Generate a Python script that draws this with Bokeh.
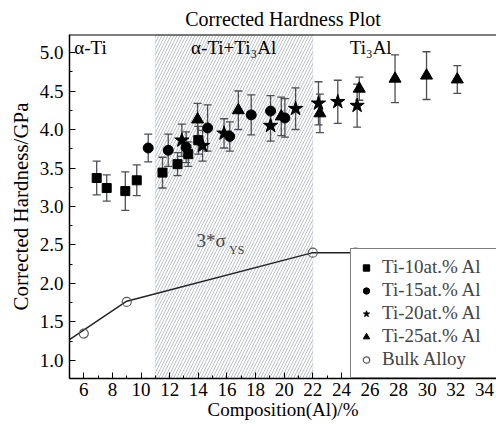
from bokeh.plotting import figure
from bokeh.models import (Range1d, FixedTicker, Whisker, TeeHead, ColumnDataSource,
                          BoxAnnotation, Label, Legend, LegendItem, Span, NumeralTickFormatter)
from bokeh.embed import file_html
from bokeh.resources import INLINE

# ---------------- data ----------------
ti10_x = [6.9, 7.6, 8.9, 9.7, 11.5, 12.55, 13.3, 14.0]
ti10_y = [3.37, 3.24, 3.20, 3.34, 3.44, 3.55, 3.68, 3.86]
ti10_e = [0.22, 0.17, 0.25, 0.20, 0.20, 0.15, 0.16, 0.18]

ti15_x = [10.5, 11.9, 13.15, 14.65, 16.2, 17.7, 19.05, 20.05]
ti15_y = [3.76, 3.73, 3.77, 4.02, 3.91, 4.19, 4.24, 4.15]
ti15_e = [0.18, 0.21, 0.20, 0.30, 0.19, 0.26, 0.20, 0.25]

ti20_x = [12.85, 14.3, 15.8, 19.05, 20.8, 22.4, 23.75, 25.1]
ti20_y = [3.86, 3.79, 3.95, 4.05, 4.27, 4.34, 4.36, 4.31]
ti20_e = [0.21, 0.20, 0.19, 0.20, 0.27, 0.28, 0.28, 0.28]

ti25_x = [13.95, 16.8, 19.8, 22.5, 25.25, 27.75, 29.95, 32.1]
ti25_y = [4.13, 4.25, 4.17, 4.21, 4.53, 4.66, 4.70, 4.65]
ti25_e = [0.21, 0.25, 0.25, 0.25, 0.15, 0.31, 0.31, 0.18]

bulk_x = [6, 9, 22, 25]
bulk_y = [1.35, 1.76, 2.40, 2.40]
fit_x = [5, 9, 22, 25]
fit_y = [1.27, 1.77, 2.40, 2.40]

phase_bounds = [11, 22]
phase_names = ["α-Ti", "α-Ti+Ti₃Al", "Ti₃Al"]
phase_label_x = [6.47, 16.47, 26.05]

series_names = ["Ti-10at.% Al", "Ti-15at.% Al", "Ti-20at.% Al", "Ti-25at.% Al", "Bulk Alloy"]

x_ticks = [6, 8, 10, 12, 14, 16, 18, 20, 22, 24, 26, 28, 30, 32, 34]
x_minor = [5, 7, 9, 11, 13, 15, 17, 19, 21, 23, 25, 27, 29, 31, 33]
y_ticks = [1.0, 1.5, 2.0, 2.5, 3.0, 3.5, 4.0, 4.5, 5.0]
y_minor = [1.25, 1.75, 2.25, 2.75, 3.25, 3.75, 4.25, 4.75]

FONT = "Liberation Serif"
ERR_COLOR = "#4d4f57"

p = figure(width=496, height=424, output_backend="svg", toolbar_location=None,
           x_range=Range1d(5, 34.84), y_range=Range1d(0.766, 5.234),
           min_border_left=69, min_border_right=0, min_border_top=34, min_border_bottom=46,
           title="Corrected Hardness Plot")
p.title.text_font = FONT
p.title.text_font_size = "20px"
p.title.text_font_style = "normal"
p.title.text_color = "black"
p.title.align = "center"
p.outline_line_color = None
p.xgrid.visible = False
p.ygrid.visible = False
p.background_fill_color = "white"
p.border_fill_color = "white"

# hatched two-phase region
p.add_layout(BoxAnnotation(left=phase_bounds[0], right=phase_bounds[1],
                           fill_color=None, fill_alpha=0,
                           hatch_pattern="/", hatch_color="#b4bac4", hatch_scale=6,
                           hatch_weight=0.9, line_color="#a9b3c4", line_width=1,
                           level="underlay"))

# top border
p.add_layout(Span(location=5.234, dimension="width", line_color="black", line_width=2))

def add_series(xs, ys, es, marker, size):
    src = ColumnDataSource(dict(x=xs, y=ys,
                                upper=[a + b for a, b in zip(ys, es)],
                                lower=[a - b for a, b in zip(ys, es)]))
    w = Whisker(source=src, base="x", upper="upper", lower="lower",
                line_color=ERR_COLOR, line_width=1.3, level="underlay",
                upper_head=TeeHead(size=8, line_color=ERR_COLOR, line_width=1.3),
                lower_head=TeeHead(size=8, line_color=ERR_COLOR, line_width=1.3))
    p.add_layout(w)
    return p.scatter("x", "y", source=src, marker=marker, size=size,
                     fill_color="black", line_color="black")

r10 = add_series(ti10_x, ti10_y, ti10_e, "square", 9)
r15 = add_series(ti15_x, ti15_y, ti15_e, "circle", 10)
r20 = add_series(ti20_x, ti20_y, ti20_e, "star", 15)
r25 = add_series(ti25_x, ti25_y, ti25_e, "triangle", 12)

p.line(fit_x, fit_y, line_color="#222222", line_width=1.4)
rb = p.scatter(bulk_x, bulk_y, marker="circle", size=9, fill_color=None,
               line_color="#5a5a5a", line_width=1.2)

# region labels
for nm, lx in zip(phase_names, phase_label_x):
    p.add_layout(Label(x=lx, y=5.06, text=nm, text_font=FONT, text_font_size="19px",
                       text_align="center", text_baseline="middle", text_color="black"))

p.add_layout(Label(x=13.88, y=2.56, text="3*σ", text_font=FONT, text_font_size="19px",
                   text_align="left", text_baseline="middle"))
p.add_layout(Label(x=16.15, y=2.44, text="YS", text_font=FONT, text_font_size="12px",
                   text_align="left", text_baseline="middle"))

# axes
for ax in (p.xaxis[0], p.yaxis[0]):
    ax.axis_line_color = "black"
    ax.axis_line_width = 1.5
    ax.major_tick_in = 6
    ax.major_tick_out = 0
    ax.minor_tick_in = 3
    ax.minor_tick_out = 0
    ax.major_tick_line_color = "black"
    ax.minor_tick_line_color = "black"
    ax.major_label_text_font = FONT
    ax.major_label_text_font_size = "19px"
    ax.major_label_text_color = "black"
    ax.axis_label_text_font = FONT
    ax.axis_label_text_font_style = "normal"
    ax.axis_label_text_color = "black"

p.xaxis.ticker = FixedTicker(ticks=x_ticks, minor_ticks=x_minor)
p.yaxis.ticker = FixedTicker(ticks=y_ticks, minor_ticks=y_minor)
p.yaxis.formatter = NumeralTickFormatter(format="0.0")
p.xaxis.major_label_standoff = 4
p.yaxis.major_label_standoff = 6
p.xaxis.axis_label = "Composition(Al)/%"
p.xaxis.axis_label_text_font_size = "19px"
p.xaxis.axis_label_standoff = 0
p.yaxis.axis_label = "Corrected Hardness/GPa"
p.yaxis.axis_label_text_font_size = "21px"
p.yaxis.axis_label_standoff = 4

legend = Legend(items=[LegendItem(label=n, renderers=[r]) for n, r in
                       zip(series_names, [r10, r15, r20, r25, rb])],
                location=(281, 0), label_text_font=FONT, label_text_font_size="19px",
                label_height=19, glyph_height=19, glyph_width=16, label_standoff=8,
                spacing=1, padding=7, margin=0, label_width=115,
                border_line_color="black", border_line_width=1,
                background_fill_color="white", background_fill_alpha=1)
p.add_layout(legend)

open("out.html", "w").write(file_html(p, INLINE))
